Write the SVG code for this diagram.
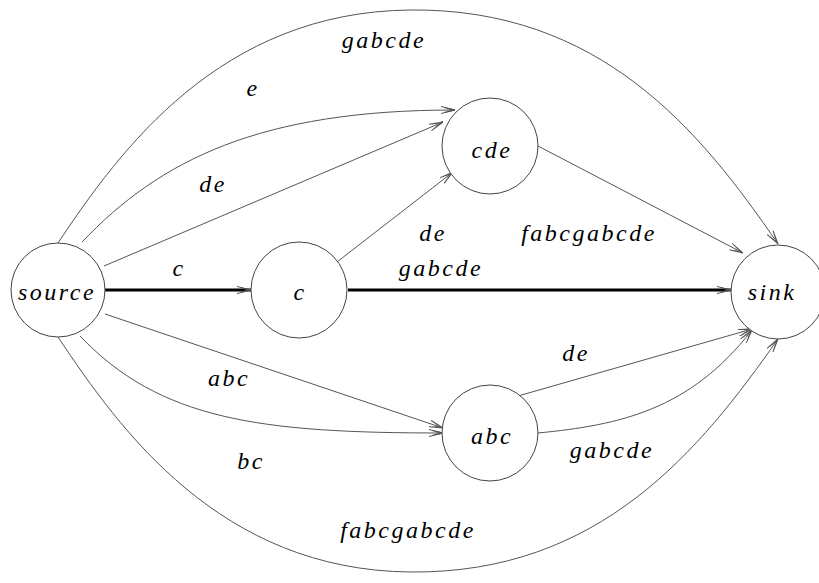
<svg xmlns="http://www.w3.org/2000/svg" width="819" height="583" viewBox="0 0 819 583">
<style>
.node circle{fill:#fff;stroke:#444;stroke-width:1}
.lbl{font-family:"Liberation Serif","Times New Roman","DejaVu Serif",serif;font-style:italic;font-size:24px;letter-spacing:2.5px;fill:#000;text-anchor:middle}
.e{fill:none;stroke:#555;stroke-width:1;marker-end:url(#ah)}
.t{fill:none;stroke:#000;stroke-width:3;marker-end:url(#ah)}
</style>
<defs>
<marker id="ah" markerUnits="userSpaceOnUse" viewBox="0 0 14 8" refX="14" refY="4" markerWidth="14" markerHeight="8" orient="auto">
<path d="M0,0.5 L14,4 L0,7.5 M3,1.5 L14,4 L3,6.5 M6,2.5 L14,4 L6,5.5" fill="none" stroke="#555" stroke-width="1"/>
</marker>
</defs>
<rect width="819" height="583" fill="#fff"/>
<g id="connectors">
<path class="e" d="M58,243 C120,150 220,12 410,10 C600,8 700,130 778,244"/>
<path class="e" d="M82,242 C160,160 260,110 455,110"/>
<path class="e" d="M104,266 L443,122"/>
<path class="t" d="M105,290 L251,290"/>
<path class="e" d="M337,262 L453,172"/>
<path class="t" d="M348,290 L731,290"/>
<path class="e" d="M538,146 L743,253"/>
<path class="e" d="M105,314 L443,428"/>
<path class="e" d="M80,336 C160,420 260,433 443,433"/>
<path class="e" d="M518,396 L752,329"/>
<path class="e" d="M538,433 C620,425 690,410 752,330"/>
<path class="e" d="M58,337 C120,430 220,570 410,572 C600,574 700,450 778,339"/>
</g>
<g id="source" class="node"><circle cx="58" cy="290" r="47"/><text class="lbl" x="57" y="300">source</text></g>
<g id="c" class="node"><circle cx="299" cy="290" r="48"/><text class="lbl" x="300" y="300">c</text></g>
<g id="cde" class="node"><circle cx="490" cy="146" r="48"/><text class="lbl" x="492" y="158">cde</text></g>
<g id="abc" class="node"><circle cx="490" cy="433" r="48"/><text class="lbl" x="492" y="444">abc</text></g>
<g id="sink" class="node"><circle cx="778" cy="292" r="47"/><text class="lbl" x="772" y="300">sink</text></g>
<g id="labels">
<text class="lbl" x="384" y="48">gabcde</text>
<text class="lbl" x="253" y="96">e</text>
<text class="lbl" x="213" y="192">de</text>
<text class="lbl" x="179" y="276">c</text>
<text class="lbl" x="433" y="241">de</text>
<text class="lbl" x="589" y="241">fabcgabcde</text>
<text class="lbl" x="441" y="276">gabcde</text>
<text class="lbl" x="229" y="386">abc</text>
<text class="lbl" x="576" y="361">de</text>
<text class="lbl" x="251" y="469">bc</text>
<text class="lbl" x="612" y="458">gabcde</text>
<text class="lbl" x="408" y="538">fabcgabcde</text>
</g>
</svg>
